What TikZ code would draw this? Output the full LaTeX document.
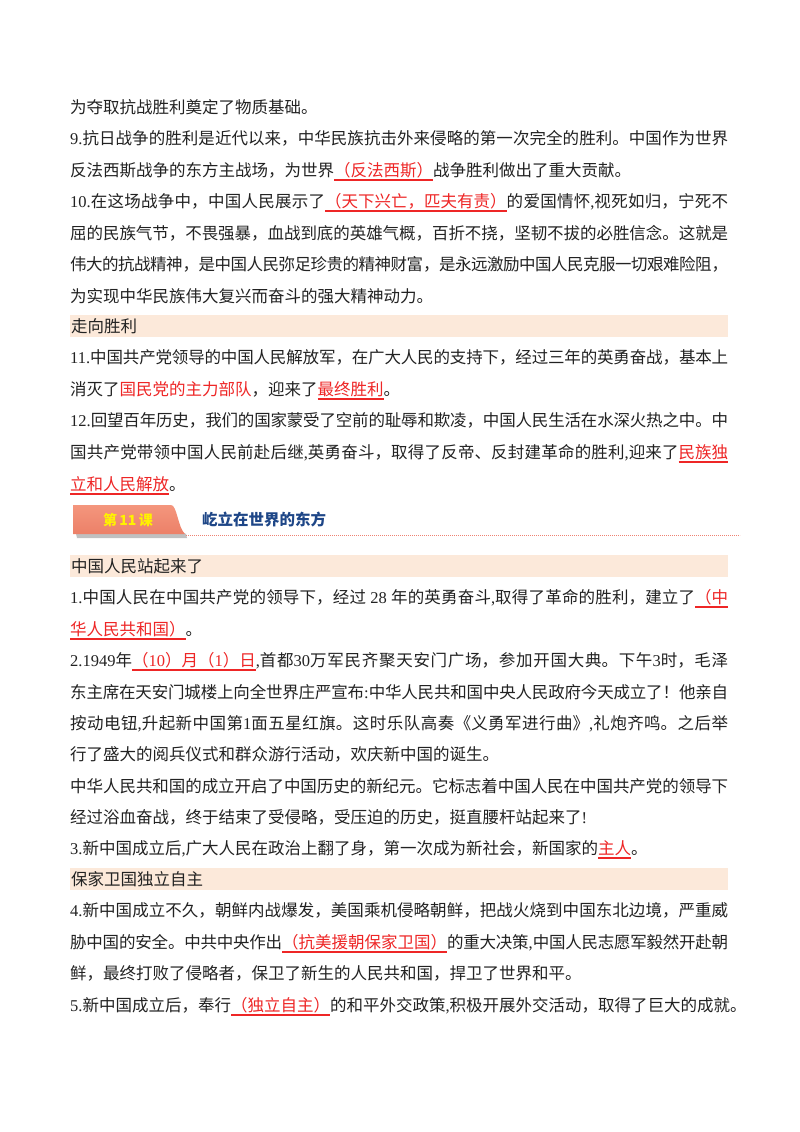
\documentclass[tikz,border=0pt]{standalone}
\usepackage{fontspec}
\setmainfont{Noto Sans CJK SC}
\newfontfamily\latf{Liberation Serif}
\XeTeXlinebreaklocale "zh"
\XeTeXlinebreakskip=0pt plus 3pt minus 0.5pt
\definecolor{ansred}{RGB}{238,38,38}
\definecolor{bandc}{RGB}{252,233,218}
\definecolor{txtc}{RGB}{34,34,34}
\definecolor{titleblue}{RGB}{30,70,135}
\definecolor{badgetop}{RGB}{244,150,125}
\definecolor{badgebot}{RGB}{236,128,104}
\definecolor{dotc}{RGB}{238,130,115}
\newcommand{\enx}[1]{{\latf #1}}
\newcommand{\ans}[1]{{\color{ansred}\setbox0\hbox{#1}\rlap{\rule[-4.5pt]{\wd0}{1.1pt}}\box0}}
\newcommand{\jline}[1]{\parbox[b]{658pt}{\parfillskip=0pt\relax\noindent #1}}
\tikzset{
  txt/.style={anchor=base west, inner sep=0pt, text=txtc, font=\fontsize{16.5}{20}\selectfont},
  band/.style={fill=bandc, draw=none, inner sep=0pt, anchor=north west, minimum width=658pt, minimum height=22pt},
}
\begin{document}
\begin{tikzpicture}[x=1pt,y=-1pt]
\useasboundingbox[fill=white] (0,0) rectangle (800,1132);

% bands
\node[band] (b1) at (70,315) {};
\node[band] (b2) at (70,555) {};
\node[band] (b3) at (70,868) {};

\node[txt] (l1) at (70,113) {为夺取抗战胜利奠定了物质基础。};
\node[txt] (l2) at (70,144) {\jline{\enx{9.}抗日战争的胜利是近代以来，中华民族抗击外来侵略的第一次完全的胜利。中国作为世界}};
\node[txt] (l3) at (70,176) {反法西斯战争的东方主战场，为世界\ans{（反法西斯）}战争胜利做出了重大贡献。};
\node[txt] (l4) at (70,207) {\jline{\enx{10.}在这场战争中，中国人民展示了\ans{（天下兴亡，匹夫有责）}的爱国情怀\enx{,}视死如归，宁死不}};
\node[txt] (l5) at (70,239) {\jline{屈的民族气节，不畏强暴，血战到底的英雄气概，百折不挠，坚韧不拔的必胜信念。这就是}};
\node[txt] (l6) at (70,270) {\jline{伟大的抗战精神，是中国人民弥足珍贵的精神财富，是永远激励中国人民克服一切艰难险阻，}};
\node[txt] (l7) at (70,302) {为实现中华民族伟大复兴而奋斗的强大精神动力。};

\node[txt] (t1) at (71,332) {走向胜利};

\node[txt] (l9) at (70,363) {\jline{\enx{11.}中国共产党领导的中国人民解放军，在广大人民的支持下，经过三年的英勇奋战，基本上}};
\node[txt] (l10) at (70,395) {消灭了{\color{ansred}国民党的主力部队}，迎来了\ans{最终胜利}。};
\node[txt] (l11) at (70,426) {\jline{\enx{12.}回望百年历史，我们的国家蒙受了空前的耻辱和欺凌，中国人民生活在水深火热之中。中}};
\node[txt] (l12) at (70,458) {\jline{国共产党带领中国人民前赴后继\enx{,}英勇奋斗，取得了反帝、反封建革命的胜利\enx{,}迎来了\ans{民族独}}};
\node[txt] (l13) at (70,490) {\ans{立和人民解放}。};

% lesson header
\fill[black!35, opacity=0.7] (76,533.5) -- (186,533.5) -- (187,538) -- (77,538) -- cycle;
\shade[top color=badgetop, bottom color=badgebot] (73,505) -- (171,505) .. controls (177,505) and (178,528) .. (185,534) -- (73,534) -- cycle;
\node[inner sep=0pt, text=yellow, font=\fontsize{14}{16}\selectfont\bfseries] (badge) at (128,520) {第\,11\,课};
\node[anchor=west, inner sep=0pt, text=titleblue, font=\fontsize{15.5}{18}\selectfont\bfseries] (title) at (202,520) {屹立在世界的东方};
\coordinate (d1) at (186,535.5);
\coordinate (d2) at (740,535.5);
\draw[dotc, line width=0.7pt, dash pattern=on 0.8pt off 1.2pt] (d1) -- (d2);

\node[txt] (t2) at (71,572) {中国人民站起来了};

\node[txt] (l16) at (70,603) {\jline{\enx{1.}中国人民在中国共产党的领导下，经过\enx{ 28 }年的英勇奋斗\enx{,}取得了革命的胜利，建立了\ans{（中}}};
\node[txt] (l17) at (70,635) {\ans{华人民共和国）}。};
\node[txt] (l18) at (70,666) {\jline{\enx{2.1949}年\ans{（\enx{10}）月（\enx{1}）日}\enx{,}首都\enx{30}万军民齐聚天安门广场，参加开国大典。下午\enx{3}时，毛泽}};
\node[txt] (l19) at (70,698) {\jline{东主席在天安门城楼上向全世界庄严宣布\enx{:}中华人民共和国中央人民政府今天成立了！他亲自}};
\node[txt] (l20) at (70,729) {\jline{按动电钮\enx{,}升起新中国第\enx{1}面五星红旗。这时乐队高奏《义勇军进行曲》\enx{,}礼炮齐鸣。之后举}};
\node[txt] (l21) at (70,760) {行了盛大的阅兵仪式和群众游行活动，欢庆新中国的诞生。};
\node[txt] (l22) at (70,792) {\jline{中华人民共和国的成立开启了中国历史的新纪元。它标志着中国人民在中国共产党的领导下}};
\node[txt] (l23) at (70,823) {经过浴血奋战，终于结束了受侵略，受压迫的历史，挺直腰杆站起来了\enx{!}};
\node[txt] (l24) at (70,854) {\enx{3.}新中国成立后\enx{,}广大人民在政治上翻了身，第一次成为新社会，新国家的\ans{主人}。};

\node[txt] (t3) at (71,885) {保家卫国独立自主};

\node[txt] (l26) at (70,916) {\jline{\enx{4.}新中国成立不久，朝鲜内战爆发，美国乘机侵略朝鲜，把战火烧到中国东北边境，严重威}};
\node[txt] (l27) at (70,948) {\jline{胁中国的安全。中共中央作出\ans{（抗美援朝保家卫国）}的重大决策\enx{,}中国人民志愿军毅然开赴朝}};
\node[txt] (l28) at (70,979) {鲜，最终打败了侵略者，保卫了新生的人民共和国，捍卫了世界和平。};
\node[txt] (l29) at (70,1011) {\enx{5.}新中国成立后，奉行\ans{（独立自主）}的和平外交政策\enx{,}积极开展外交活动，取得了巨大的成就。};
\end{tikzpicture}
\end{document}
